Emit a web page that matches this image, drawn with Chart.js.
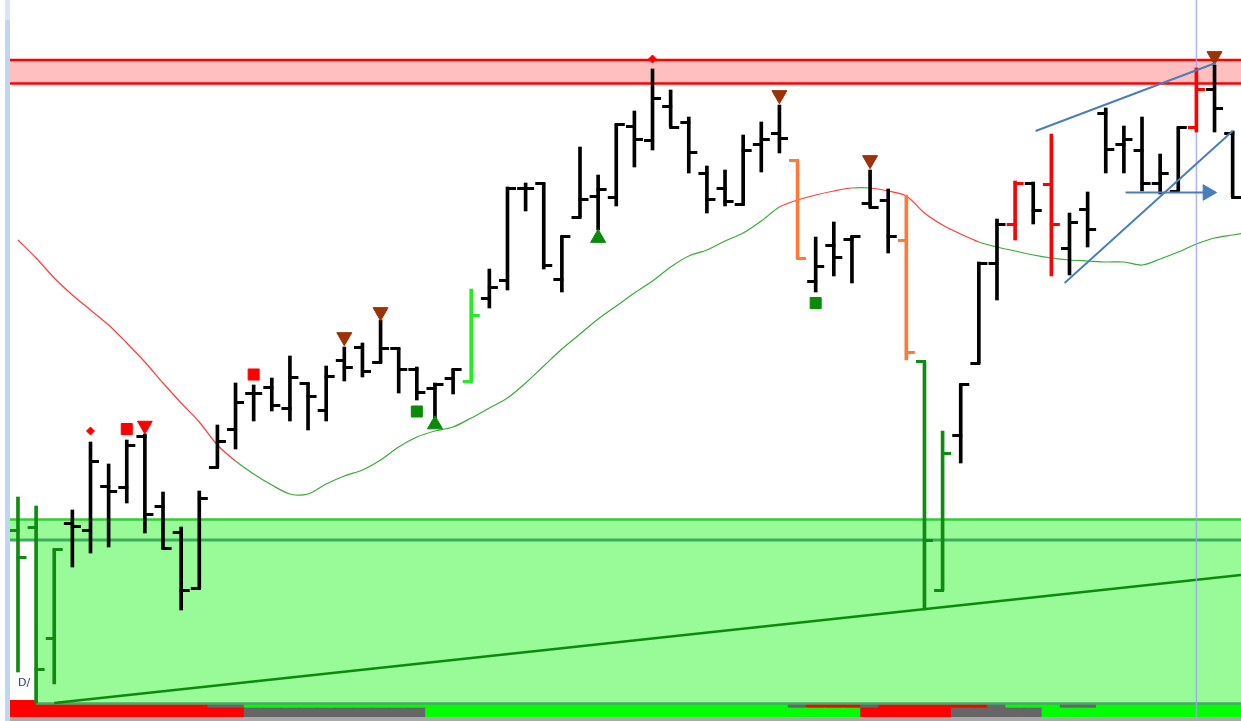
<!DOCTYPE html>
<html>
<head>
<meta charset="utf-8">
<script src="https://cdn.jsdelivr.net/npm/chart.js@4.4.1/dist/chart.umd.min.js"></script>
<style>
  html, body { margin: 0; padding: 0; background: #fff; width: 1241px; height: 721px; overflow: hidden; position: relative; }
  #frame { position: absolute; left: 5px; top: 0; width: 5px; height: 721px; background: #bdd7ee; }
  #frameTop { position: absolute; left: 5px; top: 0; width: 5px; height: 20px; background: #dce6f2; }
  #mainBox { position: absolute; left: 10px; top: 0; width: 1231px; height: 705px; z-index: 2; }
  #stripBox { position: absolute; left: 10px; top: 700px; width: 1231px; height: 17px; z-index: 1; }
  #footer { position: absolute; left: 10px; top: 717px; width: 1231px; height: 4px; background: #a9a9a9; }
  #dLabel { position: absolute; left: 18px; top: 676px; font: 11px "DejaVu Sans", sans-serif; color: #2a3d6e; z-index: 3; }
</style>
</head>
<body>
<div id="frame"></div>
<div id="frameTop"></div>
<div id="stripBox"><canvas id="strip" width="1231" height="17"></canvas></div>
<div id="mainBox"><canvas id="main" width="1231" height="705"></canvas></div>
<div id="footer"></div>
<div id="dLabel">D/</div>
<script>
// OHLC bars, one per session (index = bar number)
const barOpen  = [67.0, 67.3, 56.2, 67.7, 67.0, 71.4, 71.3, 76.4, 69.4, 66.8, 61.2, 73.3, 77.1, 80.7, 81.3, 79.2, 81.7, 79.0, 84.0, 85.3,
                  83.8, 85.2, 83.1, 81.2, 82.2, 81.9, 90.2, 92.0, 101.2, 101.7, 92.1, 98.3, 100.4, 100.3, 107.4, 106.0, 109.4, 107.8, 102.7, 101.2,
                  99.6, 105.6, 106.7, 104.0, 91.9, 95.5, 96.1, 99.7, 100.0, 96.0, 83.9, 61.0, 76.5, 83.7, 93.7, 97.6, 101.7, 101.6, 95.2, 99.1,
                  108.7, 105.6, 105.0, 101.7, 100.9, 107.3, 111.1, 106.7];
const barHigh  = [70.3, 69.4, 65.1, 69.0, 75.8, 73.6, 76.0, 76.6, 70.8, 67.3, 70.9, 77.5, 81.7, 81.5, 82.2, 84.4, 81.7, 83.4, 85.3, 85.7,
                  88.0, 85.2, 83.3, 81.7, 83.1, 91.1, 93.1, 101.3, 101.7, 101.7, 96.4, 105.3, 102.5, 107.6, 108.9, 113.1, 111.0, 108.3, 103.4, 103.0,
                  106.5, 107.8, 109.5, 104.0, 96.3, 97.8, 96.4, 103.0, 101.1, 100.5, 83.9, 76.9, 81.6, 93.8, 98.1, 101.9, 101.8, 106.6, 98.7, 100.8,
                  109.2, 107.4, 108.3, 104.6, 107.3, 113.2, 113.5, 106.9];
const barLow   = [52.8, 49.7, 51.6, 63.3, 64.7, 65.3, 69.7, 66.7, 65.1, 59.0, 61.2, 73.3, 75.1, 77.9, 78.9, 77.9, 77.0, 77.9, 81.9, 82.3,
                  83.7, 80.7, 80.0, 78.2, 80.6, 81.9, 89.2, 91.0, 98.9, 93.1, 90.8, 98.3, 97.0, 99.4, 103.3, 105.0, 107.3, 102.7, 98.7, 99.4,
                  99.5, 102.8, 104.7, 94.2, 90.8, 92.4, 91.7, 99.3, 94.7, 84.0, 59.0, 61.0, 73.7, 83.7, 90.0, 96.0, 97.6, 92.4, 92.5, 95.3,
                  102.7, 102.7, 100.9, 100.6, 100.9, 106.8, 106.8, 100.3];
const barClose = [64.3, 53.1, 65.1, 67.4, 73.9, 70.9, 75.5, 68.6, 65.2, 61.0, 70.2, 75.9, 79.8, 80.7, 79.5, 82.3, 80.4, 82.4, 83.3, 82.9,
                  85.2, 83.1, 80.8, 81.6, 83.1, 88.5, 91.3, 101.2, 101.2, 93.5, 96.4, 100.1, 101.1, 107.6, 106.1, 110.2, 107.3, 104.8, 100.1, 99.9,
                  105.0, 106.1, 106.2, 94.2, 93.4, 94.3, 96.4, 99.3, 96.4, 84.8, 66.0, 74.7, 81.6, 93.7, 97.6, 101.7, 99.0, 97.6, 97.8, 97.1,
                  105.1, 106.1, 101.7, 102.7, 107.3, 111.1, 109.2, 100.3];
// bar signal: k plain, G support, L breakout, o warning, r climax
const barSignal = 'GGG kkkkkkkkkkkkkkkkkkkkkk L kkkkkkkkkkkkkkkkk o kkkkk o GG kkk r k r kkkkkkk r kk'.replace(/ /g, '').split('');

// moving average and its trend state per segment (u up / d down)
const maValues = [96.0, 94.2, 92.2, 90.5, 89.0, 87.5, 85.7, 83.8, 81.7, 79.7, 77.8, 75.5, 73.9, 72.6, 71.5, 70.6, 70.6, 71.6, 72.4, 73.0,
                  74.0, 75.3, 76.3, 76.9, 77.3, 78.2, 79.2, 80.2, 81.7, 83.4, 85.1, 86.6, 88.1, 89.4, 90.7, 91.9, 93.3, 94.4, 95.0, 95.9,
                  96.7, 97.9, 99.3, 100.0, 100.5, 100.9, 101.2, 101.2, 100.9, 100.4, 98.7, 97.5, 96.6, 95.8, 95.3, 94.9, 94.5, 94.2, 94.0, 93.9,
                  93.8, 93.8, 93.5, 94.1, 94.8, 95.6, 96.2, 96.5, 96.8];
const maTrend = 'dddddddddddd uuuuuuuuuuuuuuuuuuuuuuuuuuuuuu dddd u dddddd uuuuuuuuuuuuuuuu'.replace(/ /g, '').split('');

// zones and lines
const resistZone = [111.65, 114.0];
const supportZone = [49.65, 66.0, 68.05];
const supportStart = 1;
const trendLine = [[2, 49.7], [67.46, 62.5]];
const wedgeUpper = [[56.13, 106.9], [66.06, 113.7]];
const wedgeLower = [[57.73, 91.7], [67.0, 106.9]];
const arrowLine = [[61.09, 100.75], [65.62, 100.75]];
const cursorIndex = 65;

// signal markers [bar, price]
const redDiamonds = [[4, 76.9], [35, 114.1]];
const redSquares = [[6, 77.1], [13, 82.55]];
const redTriDown = [[7, 77.45]];
const brownTriDown = [[18, 86.3], [20, 88.8], [42, 110.5], [47, 104.0], [66, 114.4]];
const greenTriUp = [[23, 77.55], [32, 96.2]];
const greenSquares = [[22, 78.85], [44, 89.7]];

// lower strip states per bar: b bear, n neutral, u bull
const stripTop = 'bbbbbbbbbbb nn uuuuuuuuuuuuuuuuuuuuuuuuuuuuuu n bbb n bbbbbb n uuu nn uuuuuuuu'.replace(/ /g, '').split('');
const stripBottom = 'bbbbbbbbbbbbb nnnnnnnnnn uuuuuuuuuuuuuuuuuuuuuuuu bbbbb nnnnn uuuuuuuuuuu'.replace(/ /g, '').split('');

const xMin = -0.44, xMax = 67.46;
const signalColor = { k: '#000000', G: '#108a10', L: '#22ee22', o: '#ff7a36', r: '#ff0000' };
const stripColor = { b: '#ff0000', n: '#666666', u: '#00ff00' };

function pts(list) {
    return list.map(p => ({ x: p[0], y: p[1] }));
}

function tickImage(color, side) {
    const c = document.createElement('canvas');
    c.width = 19;
    c.height = 3;
    const g = c.getContext('2d');
    g.fillStyle = color;
    if (side === 'open') g.fillRect(1, 0, 10, 3);
    else g.fillRect(8, 0, 10, 3);
    return c;
}
const openImg = {}, closeImg = {};
Object.keys(signalColor).forEach(k => {
    openImg[k] = tickImage(signalColor[k], 'open');
    closeImg[k] = tickImage(signalColor[k], 'close');
});

function hline(value, from, to) {
    return [{ x: from, y: value }, { x: to, y: value }];
}

const idx = barOpen.map((_, i) => i);

function marker(list, style, color, radius, rotation, order) {
    return {
        type: 'scatter', data: pts(list), pointStyle: style, pointRadius: radius, pointRotation: rotation,
        backgroundColor: color, borderColor: color, borderWidth: 1, order: order
    };
}

const baseOptions = (yMin, yMax) => ({
    responsive: false,
    animation: false,
    layout: { padding: 0, autoPadding: false },
    plugins: { legend: { display: false }, tooltip: { enabled: false } },
    scales: {
        x: { type: 'linear', min: xMin, max: xMax, offset: false, display: false },
        y: { type: 'linear', min: yMin, max: yMax, display: false }
    }
});

const mainChart = new Chart(document.getElementById('main'), {
    type: 'scatter',
    data: {
        datasets: [
            { type: 'line', data: hline(supportZone[0], supportStart, xMax), borderColor: '#4aa86a', borderWidth: 2.5,
              fill: { value: supportZone[1] }, backgroundColor: '#98fb98', pointRadius: 0, order: 20 },
            { type: 'line', data: hline(supportZone[2], xMin, xMax), borderColor: '#33cc33', borderWidth: 2.5,
              fill: { value: supportZone[1] }, backgroundColor: '#98fb98', pointRadius: 0, order: 19 },
            { type: 'line', data: hline(supportZone[1], xMin, xMax), borderColor: '#3aae58', borderWidth: 3,
              pointRadius: 0, order: 18 },
            { type: 'line', data: hline(resistZone[1], xMin, xMax), borderColor: '#ff0000', borderWidth: 2.5,
              fill: { value: resistZone[0] }, backgroundColor: '#ffbfbf', pointRadius: 0, order: 17 },
            { type: 'line', data: hline(resistZone[0], xMin, xMax), borderColor: '#ff0000', borderWidth: 2.5,
              pointRadius: 0, order: 16 },
            { type: 'line', data: pts(trendLine), borderColor: '#0b8a0b', borderWidth: 2.5, pointRadius: 0, order: 15 },
            { type: 'line', data: maValues.map((v, i) => ({ x: i, y: v })), borderWidth: 1.2, pointRadius: 0,
              tension: 0.3, borderColor: '#3aaa3a',
              segment: { borderColor: ctx => maTrend[ctx.p0DataIndex] === 'd' ? '#ff3b3b' : '#3aaa3a' }, order: 14 },
            { type: 'line', data: [{ x: cursorIndex, y: 40 }, { x: cursorIndex, y: 130 }],
              borderColor: 'rgba(160,160,245,0.8)', borderWidth: 1.5, pointRadius: 0, order: 13 },
            { type: 'bar', data: idx.map(i => ({ x: i, y: [barLow[i], barHigh[i]] })), barThickness: 3, grouped: false,
              backgroundColor: ctx => signalColor[barSignal[ctx.dataIndex]], borderWidth: 0, order: 10 },
            { type: 'scatter', data: idx.map(i => ({ x: i, y: barOpen[i] })), pointRadius: 5,
              pointStyle: ctx => openImg[barSignal[ctx.dataIndex]], order: 9 },
            { type: 'scatter', data: idx.map(i => ({ x: i, y: barClose[i] })), pointRadius: 5,
              pointStyle: ctx => closeImg[barSignal[ctx.dataIndex]], order: 9 },
            marker(redDiamonds, 'rectRot', '#ff0000', 4, 0, 5),
            marker(redSquares, 'rect', '#ff0000', 7.8, 0, 5),
            marker(redTriDown, 'triangle', '#ff0000', 8.5, 180, 5),
            marker(brownTriDown, 'triangle', '#9c3206', 8.7, 180, 5),
            marker(greenTriUp, 'triangle', '#0a8a0a', 8.7, 0, 5),
            marker(greenSquares, 'rect', '#0a8a0a', 7.8, 0, 5),
            { type: 'line', data: pts(wedgeUpper), borderColor: '#4a7ebb', borderWidth: 2, pointRadius: 0, order: 3 },
            { type: 'line', data: pts(wedgeLower), borderColor: '#4a7ebb', borderWidth: 2, pointRadius: 0, order: 3 },
            { type: 'line', data: pts(arrowLine), borderColor: '#4a7ebb', borderWidth: 2, order: 3,
              pointRadius: [0, 9], pointStyle: 'triangle', pointRotation: 90,
              pointBackgroundColor: '#4a7ebb', pointBorderColor: '#4a7ebb', pointBorderWidth: 1 }
        ]
    },
    options: baseOptions(49.5, 120)
});

const stripChart = new Chart(document.getElementById('strip'), {
    type: 'bar',
    data: {
        datasets: [
            { data: idx.map(i => ({ x: i, y: [0, 9] })), barThickness: 19, grouped: false, borderWidth: 0,
              backgroundColor: ctx => stripColor[stripBottom[ctx.dataIndex]], order: 2 },
            { data: idx.map(i => ({ x: i, y: [9, 17] })), barThickness: 19, grouped: false, borderWidth: 0,
              backgroundColor: ctx => stripColor[stripTop[ctx.dataIndex]], order: 2 },
            { type: 'line', data: [{ x: cursorIndex, y: 0 }, { x: cursorIndex, y: 17 }],
              borderColor: 'rgba(160,160,245,0.8)', borderWidth: 1.5, pointRadius: 0, order: 1 }
        ]
    },
    options: baseOptions(0, 17)
});
</script>
</body>
</html>
